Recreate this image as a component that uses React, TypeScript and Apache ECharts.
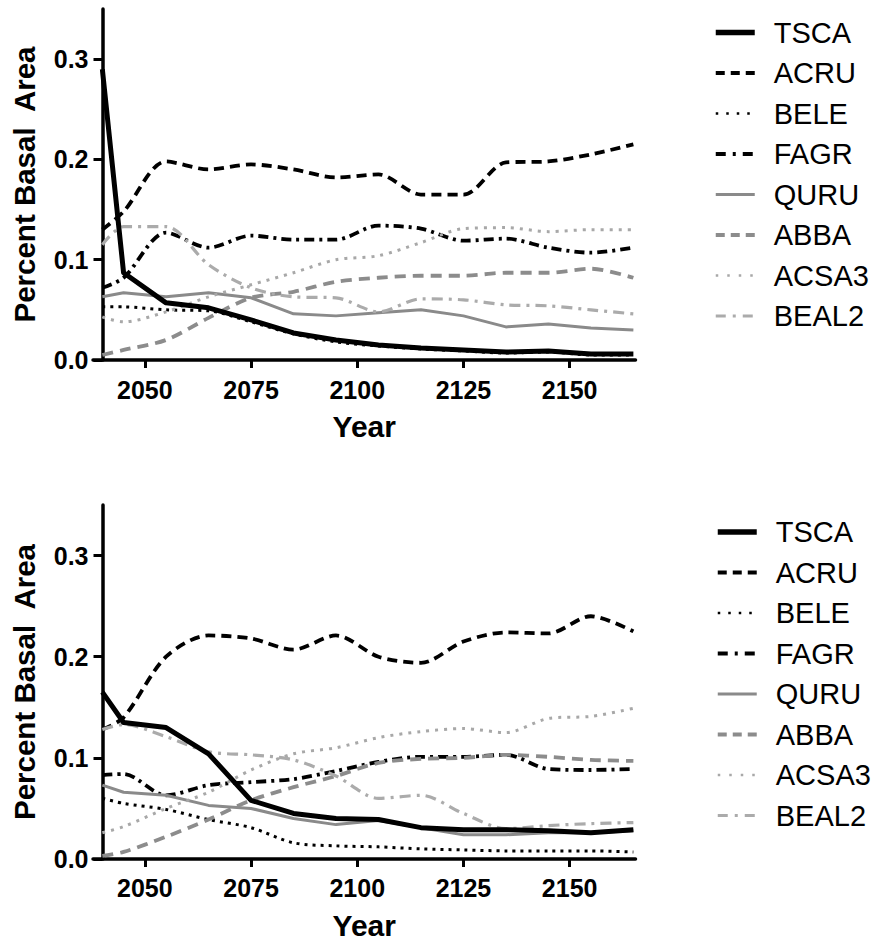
import React, { useEffect, useRef } from "react";
import * as echarts from "echarts";

// ---------- data ----------
const years = [2040, 2045, 2055, 2065, 2075, 2085, 2095, 2105, 2115, 2125, 2135, 2145, 2155, 2165];
const speciesNames = ["TSCA", "ACRU", "BELE", "FAGR", "QURU", "ABBA", "ACSA3", "BEAL2"];
const xTickValues = [2050, 2075, 2100, 2125, 2150];
const xAxisTitle = "Year";
const yAxisTitle = "Percent Basal  Area";

// top panel
const topTSCA = [0.29, 0.087, 0.057, 0.052, 0.040, 0.027, 0.020, 0.015, 0.012, 0.010, 0.008, 0.009, 0.006, 0.006];
const topACRU = [0.13, 0.148, 0.198, 0.19, 0.195, 0.19, 0.182, 0.185, 0.165, 0.165, 0.197, 0.198, 0.205, 0.215];
const topBELE = [0.053, 0.053, 0.05, 0.049, 0.038, 0.026, 0.018, 0.014, 0.011, 0.009, 0.007, 0.008, 0.005, 0.005];
const topFAGR = [0.072, 0.082, 0.127, 0.112, 0.124, 0.12, 0.12, 0.134, 0.131, 0.119, 0.121, 0.112, 0.107, 0.112];
const topQURU = [0.063, 0.067, 0.063, 0.067, 0.062, 0.046, 0.044, 0.047, 0.05, 0.044, 0.033, 0.036, 0.032, 0.03];
const topABBA = [0.005, 0.01, 0.02, 0.042, 0.062, 0.068, 0.078, 0.082, 0.084, 0.084, 0.087, 0.087, 0.091, 0.082];
const topACSA3 = [0.043, 0.038, 0.048, 0.063, 0.075, 0.087, 0.1, 0.104, 0.117, 0.131, 0.132, 0.128, 0.13, 0.13];
const topBEAL2 = [0.115, 0.133, 0.133, 0.095, 0.072, 0.063, 0.062, 0.048, 0.061, 0.06, 0.055, 0.054, 0.05, 0.046];

// bottom panel
const botTSCA = [0.165, 0.135, 0.13, 0.104, 0.058, 0.045, 0.04, 0.039, 0.031, 0.029, 0.029, 0.028, 0.026, 0.029];
const botACRU = [0.128, 0.14, 0.2, 0.221, 0.218, 0.207, 0.221, 0.2, 0.194, 0.215, 0.224, 0.223, 0.24, 0.225];
const botBELE = [0.06, 0.055, 0.049, 0.039, 0.031, 0.016, 0.013, 0.012, 0.01, 0.009, 0.008, 0.008, 0.008, 0.007];
const botFAGR = [0.083, 0.084, 0.063, 0.073, 0.076, 0.079, 0.087, 0.096, 0.101, 0.101, 0.103, 0.089, 0.088, 0.089];
const botQURU = [0.073, 0.066, 0.063, 0.053, 0.05, 0.04, 0.034, 0.038, 0.031, 0.024, 0.024, 0.026, 0.026, 0.028];
const botABBA = [0.003, 0.007, 0.022, 0.039, 0.058, 0.071, 0.082, 0.095, 0.099, 0.1, 0.103, 0.101, 0.098, 0.097];
const botACSA3 = [0.026, 0.032, 0.05, 0.066, 0.088, 0.104, 0.11, 0.12, 0.126, 0.129, 0.125, 0.139, 0.141, 0.149];
const botBEAL2 = [0.128, 0.133, 0.121, 0.106, 0.103, 0.098, 0.082, 0.06, 0.063, 0.045, 0.03, 0.033, 0.035, 0.036];

const topValues: Record<string, number[]> = {
  TSCA: topTSCA, ACRU: topACRU, BELE: topBELE, FAGR: topFAGR,
  QURU: topQURU, ABBA: topABBA, ACSA3: topACSA3, BEAL2: topBEAL2,
};
const botValues: Record<string, number[]> = {
  TSCA: botTSCA, ACRU: botACRU, BELE: botBELE, FAGR: botFAGR,
  QURU: botQURU, ABBA: botABBA, ACSA3: botACSA3, BEAL2: botBEAL2,
};

// ---------- styles ----------
type Sty = { color: string; width: number; type: any; smooth: number | boolean; lw: number; ltype: any };
const styles: Record<string, Sty> = {
  TSCA: { color: "#000000", width: 5, type: "solid", smooth: false, lw: 5.5, ltype: "solid" },
  ACRU: { color: "#000000", width: 3.8, type: [10, 6], smooth: 0.3, lw: 4, ltype: [9, 6] },
  BELE: { color: "#000000", width: 3, type: [3, 5], smooth: 0.3, lw: 2.5, ltype: [2.5, 8] },
  FAGR: { color: "#000000", width: 3.8, type: [10, 5, 3, 5], smooth: 0.3, lw: 4, ltype: [10, 7, 3, 7] },
  QURU: { color: "#8a8a8a", width: 3, type: "solid", smooth: false, lw: 3, ltype: "solid" },
  ABBA: { color: "#8c8c8c", width: 3.8, type: [11, 7], smooth: 0.3, lw: 4, ltype: [9, 6] },
  ACSA3: { color: "#a8a8a8", width: 3, type: [3, 6], smooth: 0.3, lw: 2.5, ltype: [2.5, 9] },
  BEAL2: { color: "#ababab", width: 3.2, type: [11, 6, 3, 6], smooth: 0.3, lw: 3, ltype: [10, 7, 3, 7] },
};

const FONT = "'Liberation Sans', Arial, Helvetica, sans-serif";

function makeSeries(values: Record<string, number[]>, gridIdx: number) {
  return speciesNames.map((name) => {
    const s = styles[name];
    return {
      type: "line",
      name,
      xAxisIndex: gridIdx,
      yAxisIndex: gridIdx,
      data: years.map((y, i) => [y, values[name][i]]),
      symbol: "none",
      smooth: s.smooth,
      z: name === "TSCA" ? 5 : 3,
      lineStyle: { color: s.color, width: s.width, type: s.type, cap: "butt", join: "round" },
      itemStyle: { color: s.color },
      silent: true,
    };
  });
}

function makeXAxis(gridIdx: number, labelMargin: number, nameGap: number) {
  return {
    type: "value",
    gridIndex: gridIdx,
    min: 2037.8,
    max: 2165.5,
    axisLine: { show: true, onZero: false, lineStyle: { color: "#000", width: 3.5 } },
    axisTick: { show: true, inside: false, length: 8, lineStyle: { color: "#000", width: 3 }, customValues: xTickValues },
    axisLabel: {
      show: true,
      customValues: xTickValues,
      margin: labelMargin,
      color: "#000",
      fontFamily: FONT,
      fontWeight: "bold",
      fontSize: 25,
      formatter: (v: number) => String(v),
    },
    splitLine: { show: false },
    name: xAxisTitle,
    nameLocation: "middle",
    nameGap,
    nameTextStyle: { color: "#000", fontFamily: FONT, fontWeight: "bold", fontSize: 30 },
  };
}

function makeYAxis(gridIdx: number) {
  return {
    type: "value",
    gridIndex: gridIdx,
    min: 0,
    max: 0.35,
    interval: 0.1,
    offset: -9.5,
    axisLine: { show: true, onZero: false, lineStyle: { color: "#000", width: 3.5 } },
    axisTick: { show: true, inside: false, length: 9, lineStyle: { color: "#000", width: 3 } },
    axisLabel: {
      show: true,
      margin: 14,
      color: "#000",
      fontFamily: FONT,
      fontWeight: "bold",
      fontSize: 25,
      showMaxLabel: false,
      formatter: (v: number) => (v > 0.34 ? "" : v.toFixed(1)),
    },
    splitLine: { show: false },
    name: yAxisTitle,
    nameLocation: "middle",
    nameGap: 63,
    nameRotate: 90,
    nameTextStyle: { color: "#000", fontFamily: FONT, fontWeight: "bold", fontSize: 29.5 },
  };
}

function makeLegend(left: number, top: number) {
  return {
    show: true,
    orient: "vertical",
    left,
    top,
    itemWidth: 39,
    itemHeight: 14,
    itemGap: 10.5,
    selectedMode: false,
    itemStyle: { opacity: 0 },
    textStyle: {
      color: "#000",
      fontFamily: FONT,
      fontSize: 29,
      lineHeight: 30,
      padding: [0, 0, 0, 14],
    },
    data: speciesNames.map((name) => ({
      name,
      itemStyle: { opacity: 0 },
      lineStyle: { color: styles[name].color, width: styles[name].lw, type: styles[name].ltype, cap: "butt" },
    })),
  };
}

export default function App() {
  const ref = useRef<HTMLDivElement>(null);
  useEffect(() => {
    if (!ref.current) return;
    const chart = echarts.init(ref.current, null, { renderer: "svg" });
    const option: any = {
      animation: false,
      backgroundColor: "#ffffff",
      grid: [
        { left: 93, top: 9, width: 542.5, height: 351, containLabel: false, outerBoundsMode: "none" },
        { left: 93, top: 505, width: 542.5, height: 354, containLabel: false, outerBoundsMode: "none" },
      ],
      xAxis: [makeXAxis(0, 17, 51), makeXAxis(1, 16, 51)],
      yAxis: [makeYAxis(0), makeYAxis(1)],
      legend: [makeLegend(708, 12.5), makeLegend(710, 512)],
      series: [...makeSeries(topValues, 0), ...makeSeries(botValues, 1)],
    };
    chart.setOption(option);
    return () => chart.dispose();
  }, []);
  return (
    <div
      ref={ref}
      style={{ position: "absolute", left: 0, top: 0, width: 872, height: 941, background: "#fff" }}
    />
  );
}
